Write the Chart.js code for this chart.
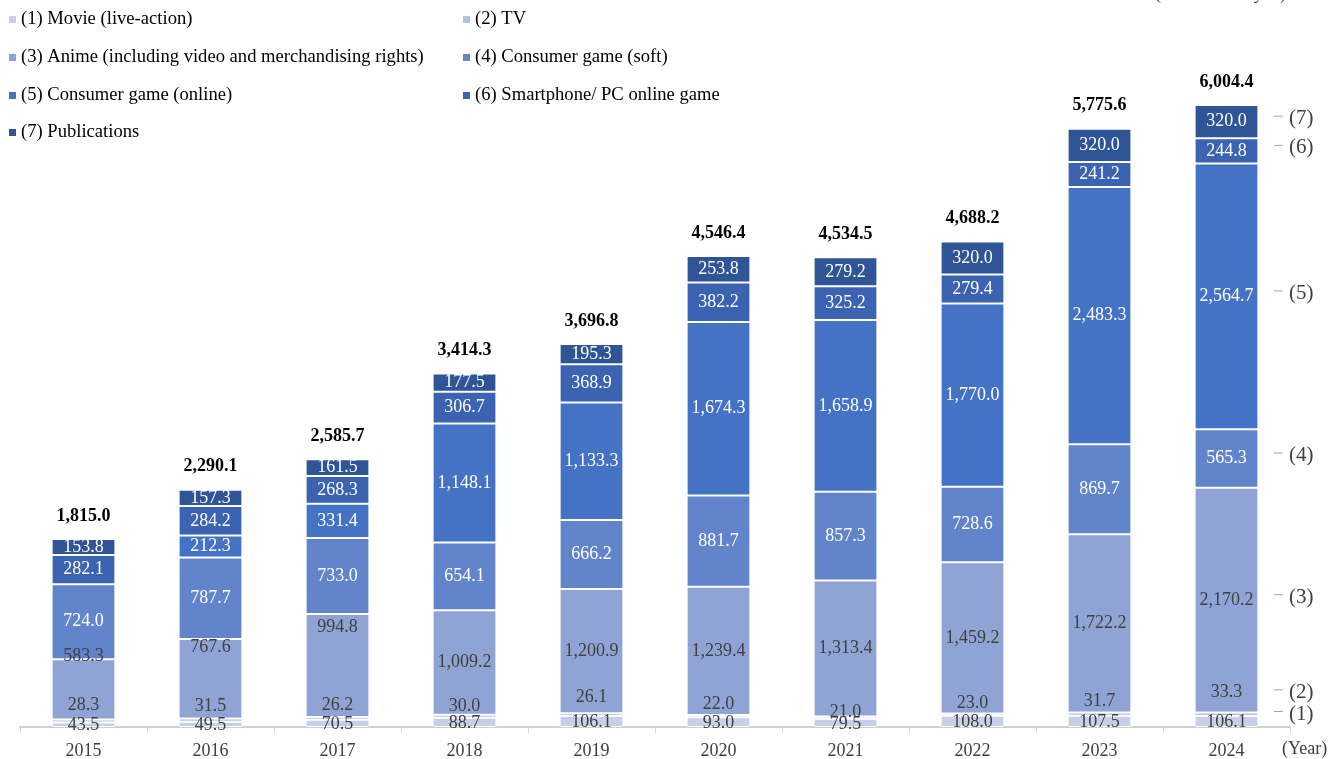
<!DOCTYPE html>
<html>
<head>
<meta charset="utf-8">
<script src="https://cdn.jsdelivr.net/npm/chart.js@4.4.1/dist/chart.umd.min.js"></script>
<style>
html, body { margin: 0; padding: 0; background: #fff; }
#wrap { width: 1330px; height: 759px; position: relative; }
</style>
</head>
<body>
<div id="wrap"><canvas id="chart" width="1330" height="759"></canvas></div>
<script>
// Data (unit: billion yen)
const years = ['2015', '2016', '2017', '2018', '2019', '2020', '2021', '2022', '2023', '2024'];
const seriesNames = [
    '(1) Movie (live-action)',
    '(2) TV',
    '(3) Anime (including video and merchandising rights)',
    '(4) Consumer game (soft)',
    '(5) Consumer game (online)',
    '(6) Smartphone/ PC online game',
    '(7) Publications'
];
const movie = [43.5, 49.5, 70.5, 88.7, 106.1, 93.0, 79.5, 108.0, 107.5, 106.1];
const tv = [28.3, 31.5, 26.2, 30.0, 26.1, 22.0, 21.0, 23.0, 31.7, 33.3];
const anime = [583.3, 767.6, 994.8, 1009.2, 1200.9, 1239.4, 1313.4, 1459.2, 1722.2, 2170.2];
const gameSoft = [724.0, 787.7, 733.0, 654.1, 666.2, 881.7, 857.3, 728.6, 869.7, 565.3];
const gameOnline = [null, 212.3, 331.4, 1148.1, 1133.3, 1674.3, 1658.9, 1770.0, 2483.3, 2564.7];
const mobile = [282.1, 284.2, 268.3, 306.7, 368.9, 382.2, 325.2, 279.4, 241.2, 244.8];
const publications = [153.8, 157.3, 161.5, 177.5, 195.3, 253.8, 279.2, 320.0, 320.0, 320.0];
const totals = [1815.0, 2290.1, 2585.7, 3414.3, 3696.8, 4546.4, 4534.5, 4688.2, 5775.6, 6004.4];

// Colours, light to dark
const colors = ['#c8d0e9', '#b3c1e4', '#8fa4d5', '#6284cb', '#4472c4', '#3b63b2', '#2f5597'];

// Manual nudges of a few labels (pixels), as in the original layout
const tvLabelShift = [-16, -14, -13, -10, -17, -12, -5, -11, -13, -22];
const animeLabelShift = [-33, -32, -38, 0, 0, 0, 0, 0, 0, 0];

const FONT = '"Liberation Serif", "Times New Roman", serif';

function fmt(v) {
    return v.toLocaleString('en-US', { minimumFractionDigits: 1, maximumFractionDigits: 1 });
}

const seriesData = [movie, tv, anime, gameSoft, gameOnline, mobile, publications];

// Segment values, totals and the right-hand series markers
const labelPlugin = {
    id: 'segmentLabels',
    afterDatasetsDraw(chart) {
        const ctx = chart.ctx;
        ctx.save();
        ctx.textAlign = 'center';
        ctx.textBaseline = 'middle';
        ctx.font = '18px ' + FONT;
        chart.data.datasets.forEach((ds, di) => {
            const meta = chart.getDatasetMeta(di);
            meta.data.forEach((bar, i) => {
                const v = ds.data[i];
                if (v == null) return;
                let y = (bar.y + bar.base) / 2;
                if (di === 0) y += 1;
                if (di === 1) y += tvLabelShift[i];
                if (di === 2) y += animeLabelShift[i];
                ctx.fillStyle = di < 3 ? '#404040' : '#ffffff';
                ctx.fillText(fmt(v), bar.x, y);
            });
        });

        // totals above bars
        const topMeta = chart.getDatasetMeta(chart.data.datasets.length - 1);
        ctx.font = 'bold 18px ' + FONT;
        ctx.fillStyle = '#000000';
        topMeta.data.forEach((bar, i) => {
            ctx.fillText(fmt(totals[i]), bar.x, bar.y - 23);
        });

        // series markers right of the last bar
        const last = years.length - 1;
        ctx.font = '21px ' + FONT;
        ctx.textAlign = 'left';
        chart.data.datasets.forEach((ds, di) => {
            const bar = chart.getDatasetMeta(di).data[last];
            let y = (bar.y + bar.base) / 2 - 3;
            if (di === 0) y = bar.base - 13;
            if (di === 1) y = (bar.y + bar.base) / 2 + tvLabelShift[last];
            ctx.strokeStyle = '#a6a6a6';
            ctx.lineWidth = 1;
            ctx.beginPath();
            ctx.moveTo(1274, y - 2.5);
            ctx.lineTo(1283, y - 2.5);
            ctx.stroke();
            ctx.fillStyle = '#404040';
            ctx.fillText('(' + (di + 1) + ')', 1289, y);
        });

        // axis note
        ctx.font = '18px ' + FONT;
        ctx.fillText('(Year)', 1282, 749);
        ctx.textAlign = 'right';
        ctx.textBaseline = 'alphabetic';
        ctx.fillText('(Unit: billion yen)', 1286, -1);
        ctx.restore();
    }
};

// Two-column legend in the top-left corner
const legendPlugin = {
    id: 'cornerLegend',
    afterDraw(chart) {
        const ctx = chart.ctx;
        ctx.save();
        ctx.font = '18.6px ' + FONT;
        ctx.textBaseline = 'middle';
        ctx.textAlign = 'left';
        const colX = [9, 463];
        const rowY = [19, 57, 95, 132];
        chart.data.datasets.forEach((ds, di) => {
            const x = colX[di % 2];
            const y = rowY[Math.floor(di / 2)];
            ctx.fillStyle = ds.backgroundColor;
            ctx.fillRect(x, y - 3, 7, 7);
            ctx.fillStyle = '#000000';
            ctx.fillText(ds.label, x + 12, y);
        });
        ctx.restore();
    }
};

const datasets = seriesData.map((arr, i) => ({
    label: seriesNames[i],
    data: arr,
    backgroundColor: colors[i],
    borderColor: '#ffffff',
    borderWidth: { top: 1, bottom: 1, left: 0, right: 0 },
    borderSkipped: false,
    barPercentage: 0.49,
    categoryPercentage: 1.0
}));

new Chart(document.getElementById('chart'), {
    type: 'bar',
    data: { labels: years, datasets: datasets },
    options: {
        responsive: false,
        animation: false,
        layout: { padding: { top: 2, left: 20, right: 40, bottom: 0 } },
        scales: {
            x: {
                stacked: true,
                grid: {
                    display: true,
                    drawOnChartArea: false,
                    drawTicks: true,
                    tickLength: 6,
                    color: '#d9d9d9'
                },
                border: { display: true, color: '#d0d0d0', width: 2 },
                ticks: {
                    color: '#404040',
                    font: { family: FONT, size: 18 },
                    padding: 7,
                    maxRotation: 0
                },
                afterFit(scale) { scale.height = 32; }
            },
            y: {
                stacked: true,
                display: false,
                min: 0,
                max: 7000
            }
        },
        plugins: {
            legend: { display: false },
            tooltip: { enabled: false }
        }
    },
    plugins: [labelPlugin, legendPlugin]
});
</script>
</body>
</html>
